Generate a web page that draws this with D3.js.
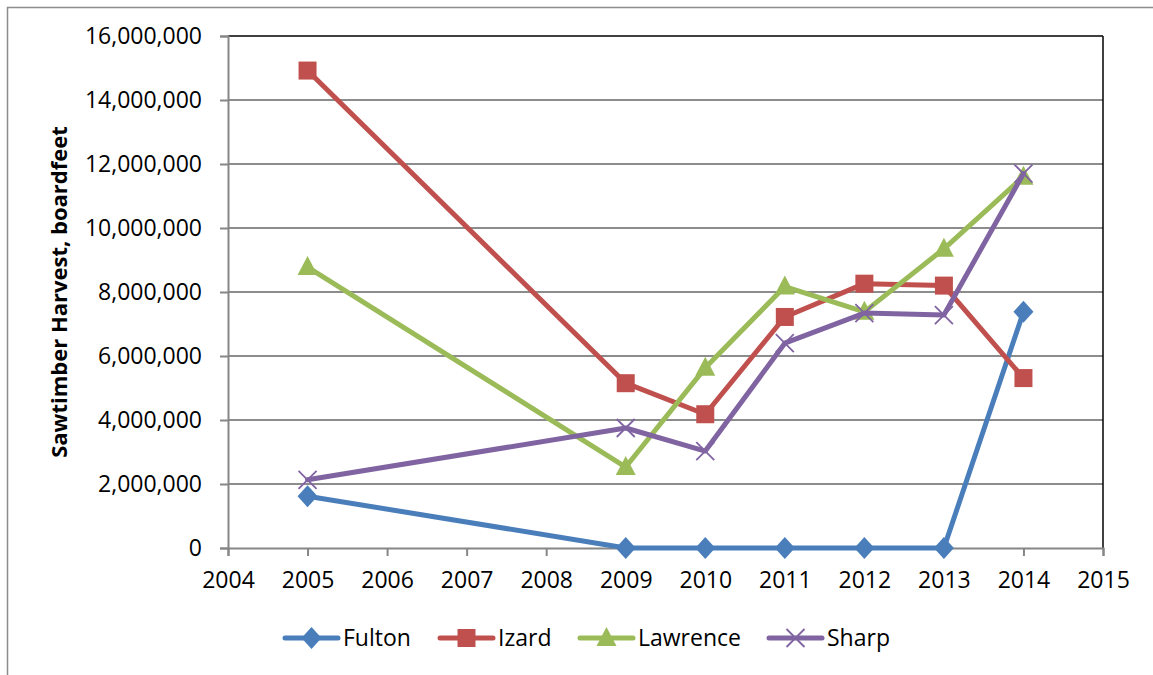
<!DOCTYPE html>
<html>
<head>
<meta charset="utf-8">
<script src="https://cdn.jsdelivr.net/npm/d3@7"></script>
<style>
  body { margin: 0; background: #fff; }
  svg { display: block; font-family: "Open Sans", "Noto Sans", sans-serif; }
</style>
</head>
<body>
<svg width="1153" height="675"></svg>
<script>
const years = [2005, 2009, 2010, 2011, 2012, 2013, 2014];
const fulton = [1620000, 0, 0, 0, 0, 0, 7380000];
const izard = [14920000, 5150000, 4180000, 7220000, 8260000, 8200000, 5310000];
const lawrence = [8780000, 2530000, 5630000, 8170000, 7380000, 9350000, 11600000];
const sharp = [2130000, 3750000, 3030000, 6400000, 7340000, 7280000, 11700000];
const xTicks = [2004, 2005, 2006, 2007, 2008, 2009, 2010, 2011, 2012, 2013, 2014, 2015];

const series = [
  { name: "Fulton", values: fulton, color: "#4a7ebb", marker: "diamond" },
  { name: "Izard", values: izard, color: "#c0504d", marker: "square" },
  { name: "Lawrence", values: lawrence, color: "#9bbb59", marker: "triangle" },
  { name: "Sharp", values: sharp, color: "#8064a2", marker: "x" }
];

const svg = d3.select("svg");
const plotLeft = 228, plotRight = 1103, plotTop = 36, plotBottom = 548;

const x = d3.scaleLinear().domain([2004, 2015]).range([plotLeft, plotRight]);
const y = d3.scaleLinear().domain([0, 16000000]).range([plotBottom, plotTop]);

// outer chart frame
svg.append("rect")
  .attr("x", 7.5).attr("y", 7.5)
  .attr("width", 1170).attr("height", 700)
  .attr("fill", "none").attr("stroke", "#8c8c8c").attr("stroke-width", 1.5);

// gridlines
svg.append("g")
  .selectAll("line")
  .data(y.ticks(8).filter(d => d > 0))
  .join("line")
  .attr("x1", plotLeft).attr("x2", plotRight)
  .attr("y1", d => y(d)).attr("y2", d => y(d))
  .attr("stroke", d => d === 16000000 ? "#000" : "#8c8c8c")
  .attr("stroke-width", d => d === 16000000 ? 1.5 : 2);

// right border of plot area
svg.append("line")
  .attr("x1", plotRight).attr("x2", plotRight).attr("y1", plotTop).attr("y2", plotBottom)
  .attr("stroke", "#000").attr("stroke-width", 1.5);

// y axis
const yAxis = svg.append("g")
  .attr("transform", `translate(${plotLeft},0)`)
  .call(d3.axisLeft(y).ticks(8).tickSize(8).tickPadding(18).tickFormat(d3.format(",")));
yAxis.select(".domain").attr("stroke", "#868686").attr("stroke-width", 2);
yAxis.selectAll(".tick line").attr("stroke", "#868686").attr("stroke-width", 2);
yAxis.selectAll(".tick text").attr("font-size", 23).attr("fill", "#000")
  .attr("font-family", "Open Sans");

// x axis
const xAxis = svg.append("g")
  .attr("transform", `translate(0,${plotBottom})`)
  .call(d3.axisBottom(x).tickValues(xTicks).tickSize(8).tickPadding(16).tickFormat(d3.format("d")));
xAxis.select(".domain").attr("stroke", "#868686").attr("stroke-width", 2);
xAxis.selectAll(".tick line").attr("stroke", "#868686").attr("stroke-width", 2);
xAxis.selectAll(".tick text").attr("font-size", 23).attr("fill", "#000")
  .attr("font-family", "Open Sans");

// y axis title
svg.append("text")
  .attr("transform", `translate(67,${(plotTop + plotBottom) / 2}) rotate(-90)`)
  .attr("text-anchor", "middle")
  .attr("font-size", 22).attr("font-weight", "bold")
  .text("Sawtimber Harvest, boardfeet");

function drawMarker(g, type, color) {
  if (type === "diamond") {
    g.append("path").attr("d", "M0,-11L10,0L0,11L-10,0Z").attr("fill", color);
  } else if (type === "square") {
    g.append("rect").attr("x", -9).attr("y", -9).attr("width", 18).attr("height", 18).attr("fill", color);
  } else if (type === "triangle") {
    g.append("path").attr("d", "M0,-11L10,8L-10,8Z").attr("fill", color);
  } else {
    g.append("path").attr("d", "M-9,-9L9,9M-9,9L9,-9").attr("stroke", color).attr("stroke-width", 1.8).attr("fill", "none");
  }
}

const line = d3.line().x((d, i) => x(years[i])).y(d => y(d));

series.forEach(s => {
  svg.append("path")
    .datum(s.values)
    .attr("d", line)
    .attr("fill", "none")
    .attr("stroke", s.color)
    .attr("stroke-width", 5)
    .attr("stroke-linejoin", "round")
    .attr("stroke-linecap", "round");
  s.values.forEach((v, i) => {
    const g = svg.append("g").attr("transform", `translate(${x(years[i])},${y(v)})`);
    drawMarker(g, s.marker, s.color);
  });
});

// legend
const legendX = [285, 440, 580, 769];
series.forEach((s, i) => {
  const g = svg.append("g").attr("transform", `translate(${legendX[i]},638)`);
  g.append("line").attr("x1", 0).attr("x2", 53)
    .attr("stroke", s.color).attr("stroke-width", 5).attr("stroke-linecap", "round");
  const m = g.append("g").attr("transform", "translate(26.5,0)");
  drawMarker(m, s.marker, s.color);
  g.append("text").attr("x", 58).attr("y", 0).attr("dy", "0.35em")
    .attr("font-size", 23).text(s.name);
});
</script>
</body>
</html>
